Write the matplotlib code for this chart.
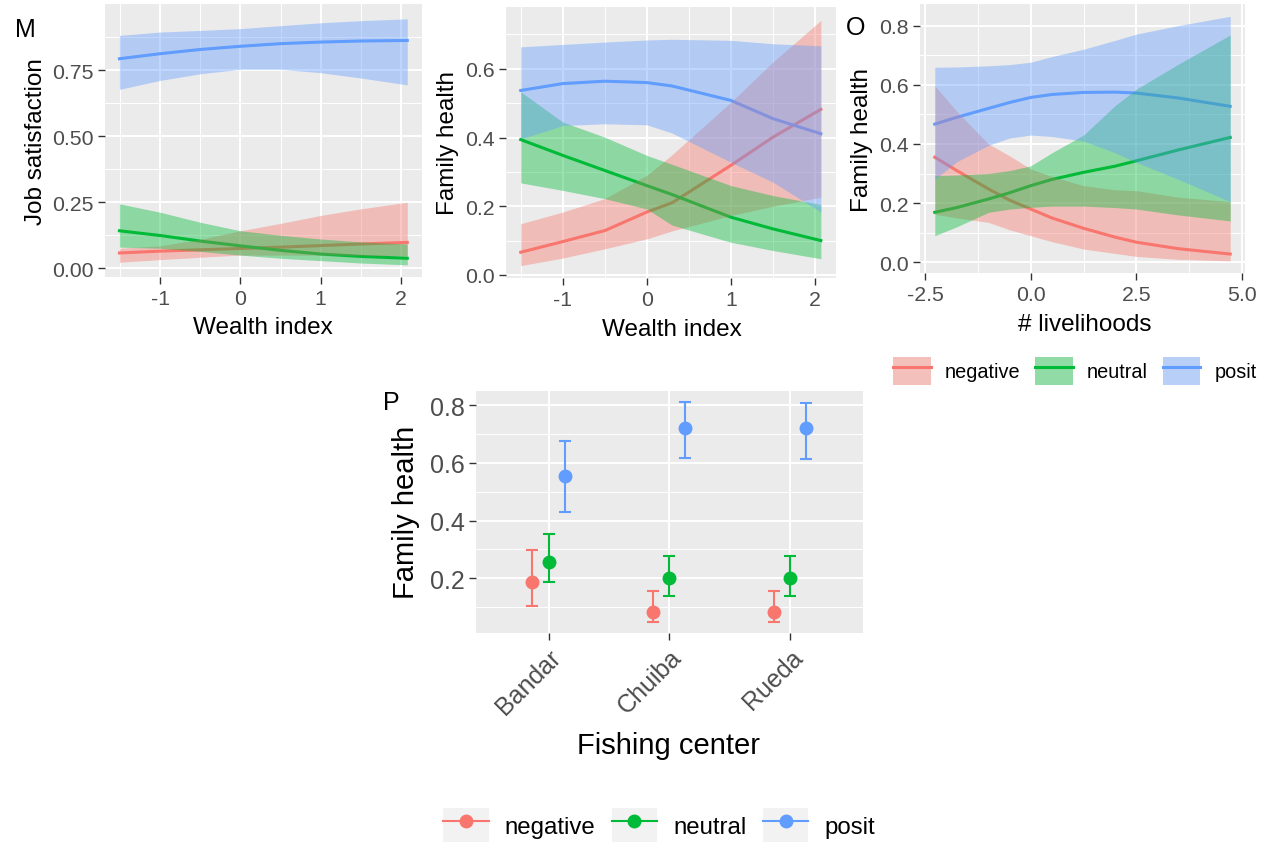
import matplotlib
matplotlib.use('Agg')
import matplotlib.pyplot as plt
from matplotlib.patches import Patch
from matplotlib.lines import Line2D

plt.rcParams['font.family'] = ['Liberation Sans', 'DejaVu Sans']
plt.rcParams['axes.unicode_minus'] = False

groups = ['negative', 'neutral', 'posit']
colors = ['#F8766D', '#00BA38', '#619CFF']

# panel M: job satisfaction ~ wealth index
m_x = [-1.51, -1.0, -0.5, 0.0, 0.5, 1.0, 1.5, 2.08]
m_neg_fit = [0.058, 0.065, 0.070, 0.075, 0.080, 0.086, 0.092, 0.098]
m_neg_lo = [0.023, 0.033, 0.042, 0.050, 0.050, 0.050, 0.049, 0.047]
m_neg_hi = [0.076, 0.085, 0.110, 0.142, 0.170, 0.200, 0.225, 0.250]
m_neu_fit = [0.142, 0.124, 0.103, 0.085, 0.068, 0.054, 0.045, 0.038]
m_neu_lo = [0.080, 0.076, 0.064, 0.050, 0.038, 0.029, 0.020, 0.013]
m_neu_hi = [0.244, 0.212, 0.174, 0.142, 0.125, 0.111, 0.100, 0.092]
m_pos_fit = [0.793, 0.812, 0.828, 0.840, 0.850, 0.856, 0.860, 0.862]
m_pos_lo = [0.677, 0.711, 0.736, 0.753, 0.753, 0.740, 0.720, 0.694]
m_pos_hi = [0.881, 0.894, 0.900, 0.907, 0.918, 0.929, 0.937, 0.944]

# panel N: family health ~ wealth index
n_x = [-1.5, -1.0, -0.5, 0.0, 0.3, 1.0, 1.5, 2.07]
n_neg_fit = [0.066, 0.097, 0.129, 0.183, 0.210, 0.319, 0.401, 0.482]
n_neg_lo = [0.027, 0.049, 0.076, 0.105, 0.128, 0.173, 0.200, 0.226]
n_neg_hi = [0.149, 0.183, 0.222, 0.290, 0.350, 0.503, 0.620, 0.741]
n_neu_fit = [0.394, 0.348, 0.304, 0.260, 0.234, 0.168, 0.134, 0.100]
n_neu_lo = [0.268, 0.246, 0.222, 0.192, 0.145, 0.095, 0.071, 0.047]
n_neu_hi = [0.533, 0.445, 0.401, 0.348, 0.322, 0.260, 0.231, 0.205]
n_pos_fit = [0.537, 0.557, 0.564, 0.560, 0.550, 0.508, 0.455, 0.411]
n_pos_lo = [0.396, 0.435, 0.440, 0.437, 0.413, 0.328, 0.270, 0.183]
n_pos_hi = [0.664, 0.671, 0.678, 0.684, 0.686, 0.683, 0.673, 0.667]

# panel O: family health ~ # livelihoods
o_x = [-2.27, -1.75, -1.0, -0.5, 0.0, 0.5, 1.25, 2.0, 2.5, 3.5, 4.72]
o_neg_fit = [0.355, 0.310, 0.248, 0.210, 0.180, 0.150, 0.115, 0.085, 0.068, 0.046, 0.028]
o_neg_lo = [0.163, 0.150, 0.135, 0.110, 0.090, 0.070, 0.045, 0.030, 0.020, 0.010, 0.005]
o_neg_hi = [0.597, 0.510, 0.400, 0.360, 0.315, 0.290, 0.259, 0.245, 0.242, 0.220, 0.205]
o_neu_fit = [0.169, 0.185, 0.214, 0.235, 0.259, 0.280, 0.304, 0.325, 0.343, 0.380, 0.422]
o_neu_lo = [0.090, 0.120, 0.169, 0.180, 0.186, 0.190, 0.190, 0.185, 0.180, 0.160, 0.140]
o_neu_hi = [0.293, 0.295, 0.300, 0.310, 0.326, 0.370, 0.430, 0.530, 0.585, 0.670, 0.768]
o_pos_fit = [0.467, 0.490, 0.520, 0.540, 0.557, 0.567, 0.574, 0.575, 0.572, 0.555, 0.527]
o_pos_lo = [0.280, 0.340, 0.395, 0.420, 0.430, 0.425, 0.410, 0.370, 0.338, 0.280, 0.205]
o_pos_hi = [0.659, 0.660, 0.664, 0.668, 0.676, 0.695, 0.720, 0.750, 0.771, 0.800, 0.831]

# panel P: family health by fishing center
centers = ['Bandar', 'Chuiba', 'Rueda']
p_neg = [0.186, 0.082, 0.082]
p_neg_lo = [0.102, 0.048, 0.048]
p_neg_hi = [0.298, 0.154, 0.154]
p_neu = [0.255, 0.200, 0.200]
p_neu_lo = [0.186, 0.137, 0.137]
p_neu_hi = [0.353, 0.278, 0.278]
p_pos = [0.555, 0.722, 0.722]
p_pos_lo = [0.431, 0.618, 0.612]
p_pos_hi = [0.674, 0.812, 0.807]

W, H = 1271, 845
BG = '#EBEBEB'


def make_ax(fig, x0, x1, y0, y1):
    # pixel box -> figure fraction
    ax = fig.add_axes([x0 / W, 1 - y1 / H, (x1 - x0) / W, (y1 - y0) / H])
    ax.set_facecolor(BG)
    for s in ax.spines.values():
        s.set_visible(False)
    ax.set_axisbelow(True)
    ax.grid(True, which='major', color='white', lw=1.4)
    ax.grid(True, which='minor', color='white', lw=0.7)
    ax.tick_params(which='major', length=4.7, width=1.0, color='#333333',
                   labelcolor='#4D4D4D', pad=3.6)
    ax.tick_params(which='minor', length=0)
    return ax


def draw_effect(ax, x, fits, los, his):
    # lines first, ribbons on top (as in the original)
    for fit, c in zip(fits, colors):
        ax.plot(x, fit, color=c, lw=2.2, zorder=2)
    for lo, hi, c in zip(los, his, colors):
        ax.fill_between(x, lo, hi, color=c, alpha=0.4, lw=0, zorder=3)


def put_labels(ax, xl, yl, xpos, ypos, size):
    ax.set_xlabel(xl, fontsize=size)
    ax.set_ylabel(yl, fontsize=size)
    ax.xaxis.set_label_coords(*xpos)
    ax.yaxis.set_label_coords(*ypos)
    ax.xaxis.label.set_va('center')
    ax.yaxis.label.set_va('center')


fig = plt.figure(figsize=(W / 100, H / 100), dpi=100)

# M
ax = make_ax(fig, 105, 421.7, 5, 278.3)
draw_effect(ax, m_x, [m_neg_fit, m_neu_fit, m_pos_fit],
            [m_neg_lo, m_neu_lo, m_pos_lo], [m_neg_hi, m_neu_hi, m_pos_hi])
ax.set_xlim(-1.69, 2.26)
ax.set_ylim(-0.034, 1.0)
ax.set_xticks([-1, 0, 1, 2])
ax.set_xticks([-1.5, -0.5, 0.5, 1.5], minor=True)
ax.set_yticks([0, 0.25, 0.5, 0.75])
ax.set_yticklabels(['0.00', '0.25', '0.50', '0.75'])
ax.set_yticks([0.125, 0.375, 0.625, 0.875], minor=True)
ax.tick_params(labelsize=15.3)
put_labels(ax, 'Wealth index', 'Job satisfaction', (0.5, -0.182), (-0.218, 0.5), 17.5)

# N
ax = make_ax(fig, 506, 836, 8, 279)
draw_effect(ax, n_x, [n_neg_fit, n_neu_fit, n_pos_fit],
            [n_neg_lo, n_neu_lo, n_pos_lo], [n_neg_hi, n_neu_hi, n_pos_hi])
ax.set_xlim(-1.675, 2.25)
ax.set_ylim(-0.009, 0.78)
ax.set_xticks([-1, 0, 1, 2])
ax.set_xticks([-1.5, -0.5, 0.5, 1.5], minor=True)
ax.set_yticks([0, 0.2, 0.4, 0.6])
ax.set_yticklabels(['0.0', '0.2', '0.4', '0.6'])
ax.set_yticks([0.1, 0.3, 0.5, 0.7], minor=True)
ax.tick_params(labelsize=15.3)
put_labels(ax, 'Wealth index', 'Family health', (0.503, -0.189), (-0.177, 0.5), 17.5)

# O
ax = make_ax(fig, 920, 1245, 5.2, 274.3)
draw_effect(ax, o_x, [o_neg_fit, o_neu_fit, o_pos_fit],
            [o_neg_lo, o_neu_lo, o_pos_lo], [o_neg_hi, o_neu_hi, o_pos_hi])
ax.set_xlim(-2.62, 5.07)
ax.set_ylim(-0.037, 0.872)
ax.set_xticks([-2.5, 0, 2.5, 5.0])
ax.set_xticklabels(['-2.5', '0.0', '2.5', '5.0'])
ax.set_xticks([-1.25, 1.25, 3.75], minor=True)
ax.set_yticks([0, 0.2, 0.4, 0.6, 0.8])
ax.set_yticklabels(['0.0', '0.2', '0.4', '0.6', '0.8'])
ax.set_yticks([0.1, 0.3, 0.5, 0.7], minor=True)
ax.tick_params(labelsize=15.3)
put_labels(ax, '# livelihoods', 'Family health', (0.508, -0.188), (-0.178, 0.5), 17.5)

# P
ax = make_ax(fig, 476, 862.7, 391.7, 634)
dodge = [-0.133, 0.0, 0.133]
xs = list(range(len(centers)))
for vals, lo, hi, c, d in zip([p_neg, p_neu, p_pos], [p_neg_lo, p_neu_lo, p_pos_lo],
                              [p_neg_hi, p_neu_hi, p_pos_hi], colors, dodge):
    xx = [x + d for x in xs]
    err = [[v - l for v, l in zip(vals, lo)], [h - v for v, h in zip(vals, hi)]]
    ax.errorbar(xx, vals, yerr=err, fmt='none', ecolor=c, elinewidth=1.5,
                capsize=4.3, capthick=1.5, zorder=3)
    ax.plot(xx, vals, 'o', color=c, ms=9, zorder=4)
ax.set_xlim(-0.6, 2.6)
ax.set_ylim(0.01, 0.85)
ax.set_xticks(xs)
ax.set_xticklabels(centers, rotation=45, ha='right', va='top', rotation_mode='anchor')
ax.set_yticks([0.2, 0.4, 0.6, 0.8])
ax.set_yticklabels(['0.2', '0.4', '0.6', '0.8'])
ax.set_yticks([0.1, 0.3, 0.5, 0.7], minor=True)
ax.tick_params(labelsize=18)
put_labels(ax, 'Fishing center', 'Family health', (0.497, -0.462), (-0.18, 0.501), 21)

# legends
top_handles = [(Patch(fc='#F2F2F2'), Patch(fc=c, alpha=0.4), Line2D([], [], color=c, lw=2.2))
               for c in colors]
fig.legend(top_handles, groups, ncol=3, loc='center left',
           bbox_to_anchor=(893 / W, 1 - 372 / H), frameon=False, fontsize=14.3,
           handlelength=1.9, handleheight=1.75, handletextpad=0.7, columnspacing=0.75,
           borderpad=0, borderaxespad=0)

bot_handles = [(Patch(fc='#F2F2F2'), Line2D([], [], color=c, lw=1.5, marker='o', ms=9))
               for c in colors]
fig.legend(bot_handles, groups, ncol=3, loc='center left', numpoints=1,
           bbox_to_anchor=(443 / W, 1 - 826 / H), frameon=False, fontsize=17.3,
           handlelength=1.9, handleheight=1.75, handletextpad=0.67, columnspacing=0.67,
           borderpad=0, borderaxespad=0)

# panel letters
fig.text(25 / W, 1 - 30 / H, 'M', fontsize=18, ha='center', va='center')
fig.text(856 / W, 1 - 28 / H, 'O', fontsize=18, ha='center', va='center')
fig.text(391 / W, 1 - 403 / H, 'P', fontsize=18, ha='center', va='center')

fig.savefig('out.png', dpi=100)
